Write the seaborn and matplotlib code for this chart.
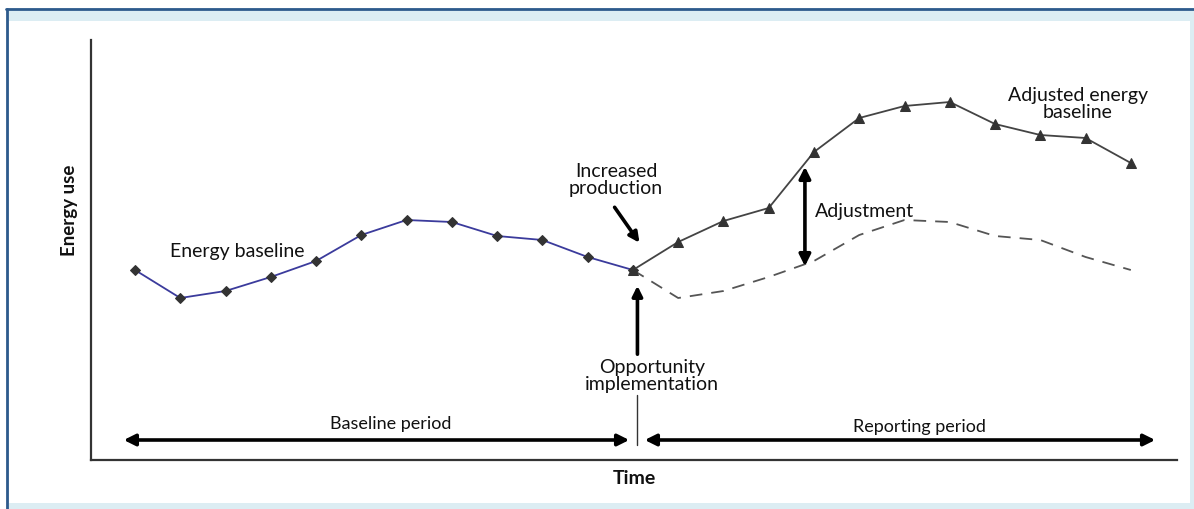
import matplotlib
matplotlib.use("Agg")
import matplotlib.pyplot as plt
import seaborn as sns
import pandas as pd
from matplotlib.patches import Rectangle

# time steps, baseline period and reporting period share step 11
baseline_t = list(range(0, 12))
reporting_t = list(range(11, 23))

# energy use (arbitrary units)
baseline_energy = [19.0, 16.2, 16.9, 18.3, 19.9, 22.5, 24.0, 23.8, 22.4, 22.0, 20.3, 19.0]
adjusted_energy = [19.0, 21.8, 23.9, 25.2, 30.8, 34.2, 35.4, 35.8, 33.6, 32.5, 32.2, 29.7]
projected_energy = [19.0, 16.2, 16.9, 18.3, 19.9, 22.5, 24.0, 23.8, 22.4, 22.0, 20.3, 19.0]

df_base = pd.DataFrame({"t": baseline_t, "energy": baseline_energy})
df_adj = pd.DataFrame({"t": reporting_t, "energy": adjusted_energy})
df_proj = pd.DataFrame({"t": reporting_t, "energy": projected_energy})

sns.set_style("white")
plt.rcParams["font.family"] = ["Lato", "DejaVu Sans"]

fig = plt.figure(figsize=(11.94, 5.09), dpi=100)
W, H = 1194, 509

# outer panel: light blue band with a blue rule and a white inner box
fig.patches.append(Rectangle((7 / W, 0), 1 - 7 / W, 1 - 8 / H, transform=fig.transFigure,
                             facecolor="#dcedf3", edgecolor="none", zorder=-3))
fig.patches.append(Rectangle((9 / W, 6 / H), (1190 - 9) / W, (503 - 21) / H,
                             transform=fig.transFigure, facecolor="white", edgecolor="none", zorder=-2))
fig.add_artist(plt.Line2D([6 / W, 1], [1 - 9 / H, 1 - 9 / H], transform=fig.transFigure,
                          color="#2d5a8c", lw=2, zorder=-1))
fig.add_artist(plt.Line2D([7 / W, 7 / W], [0, 1 - 9 / H], transform=fig.transFigure,
                          color="#2d5a8c", lw=2, zorder=-1))

ax = fig.add_axes([91 / W, 1 - 460 / H, (1177 - 91) / W, (460 - 40) / H])
ax.patch.set_alpha(0)

sns.lineplot(data=df_base, x="t", y="energy", ax=ax, color="#3b3b9c", lw=1.3,
             marker="D", markersize=5.5, markerfacecolor="#333333", markeredgecolor="#333333", zorder=3)
sns.lineplot(data=df_proj, x="t", y="energy", ax=ax, color="#555555", lw=1.3, zorder=2)
ax.lines[-1].set_dashes([7, 5])
sns.lineplot(data=df_adj, x="t", y="energy", ax=ax, color="#444444", lw=1.3,
             marker="^", markersize=7, markerfacecolor="#333333", markeredgecolor="#333333", zorder=3)

ax.set_xlim(-0.972, 23.02)
ax.set_ylim(0, 42)
ax.set_xticks([])
ax.set_yticks([])
sns.despine(ax=ax)
for s in ["left", "bottom"]:
    ax.spines[s].set_color("#333333")
    ax.spines[s].set_linewidth(1.6)

ax.set_xlabel("Time", fontsize=14, fontweight="bold", labelpad=7, color="#111111")
ax.set_ylabel("Energy use", fontsize=13.5, fontweight="bold", color="#111111")
ax.yaxis.set_label_coords(-0.012, 0.595)

# arrows
thick = dict(arrowstyle="-|>", color="black", lw=2.6, mutation_scale=15)
both = dict(arrowstyle="<|-|>", color="black", lw=2.6, mutation_scale=17)
ax.annotate("", xy=(11.18, 21.5), xytext=(10.56, 25.5), arrowprops=thick)
ax.annotate("", xy=(11.1, 17.7), xytext=(11.1, 10.3), arrowprops=thick)
ax.annotate("", xy=(14.8, 29.6), xytext=(14.8, 19.1), arrowprops=both)
ax.annotate("", xy=(-0.31, 2.0), xytext=(10.98, 2.0), arrowprops=both)
ax.annotate("", xy=(11.2, 2.0), xytext=(22.6, 2.0), arrowprops=both)
ax.plot([11.1, 11.1], [1.5, 6.5], color="#333333", lw=1)

txt = dict(fontsize=14, color="#111111", ha="center", va="center")
ax.text(2.25, 20.9, "Energy baseline", **txt)
ax.text(10.63, 28.0, "Increased\nproduction", linespacing=1.05, **txt)
ax.text(11.42, 8.4, "Opportunity\nimplementation", linespacing=1.05, **txt)
ax.text(20.83, 35.6, "Adjusted energy\nbaseline", linespacing=1.05, **txt)
ax.text(15.02, 24.9, "Adjustment", fontsize=14, color="#111111", ha="left", va="center")
ax.text(5.65, 3.6, "Baseline period", fontsize=13, color="#111111", ha="center", va="center")
ax.text(17.32, 3.3, "Reporting period", fontsize=13, color="#111111", ha="center", va="center")

fig.savefig("out.png", dpi=100)
